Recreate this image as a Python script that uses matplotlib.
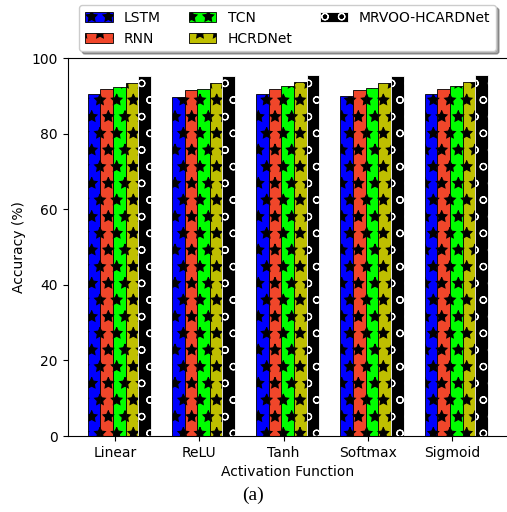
import matplotlib
matplotlib.use("Agg")
import matplotlib.pyplot as plt
import numpy as np

categories = ["Linear", "ReLU", "Tanh", "Softmax", "Sigmoid"]
models = ["LSTM", "RNN", "TCN", "HCRDNet", "MRVOO-HCARDNet"]
lstm = [90.5, 89.8, 90.6, 90.0, 90.6]
rnn = [91.8, 91.5, 91.9, 91.5, 91.9]
tcn = [92.3, 91.8, 92.5, 92.0, 92.5]
hcrdnet = [93.5, 93.3, 93.7, 93.3, 93.7]
mrvoo = [95.2, 95.3, 95.6, 95.2, 95.6]
series = [lstm, rnn, tcn, hcrdnet, mrvoo]

faces = ["#0000ff", "#f0462a", "#00ff00", "#bfbf00", "#000000"]
edges = ["black", "black", "black", "black", "white"]
hatches = ["*", "*", "*", "*", "o"]

plt.rcParams["hatch.linewidth"] = 0.8

fig = plt.figure(figsize=(5.07, 5.12), dpi=100)
ax = fig.add_axes([67.6 / 507, 1 - 436 / 512, 440.4 / 507, (436 - 58) / 512])

x = np.arange(len(categories))
w = 0.15
for i, (vals, name) in enumerate(zip(series, models)):
    ax.bar(x - 0.25 + i * w, vals, w, label=name, color=faces[i],
           edgecolor=edges[i], hatch=hatches[i], linewidth=0.6)

ax.set_ylim(0, 100)
ax.set_xticks(x)
ax.set_xticklabels(categories)
ax.set_xlabel("Activation Function")
ax.set_ylabel("Accuracy (%)")

ax.legend(loc="lower center", bbox_to_anchor=(0.5, 1.018), ncol=3,
          shadow=True, borderaxespad=0, fancybox=True)

fig.text(0.499, 1 - 495 / 512, "(a)", ha="center", va="center",
         family="Liberation Serif", fontsize=14)

fig.savefig("out.png", dpi=100)
